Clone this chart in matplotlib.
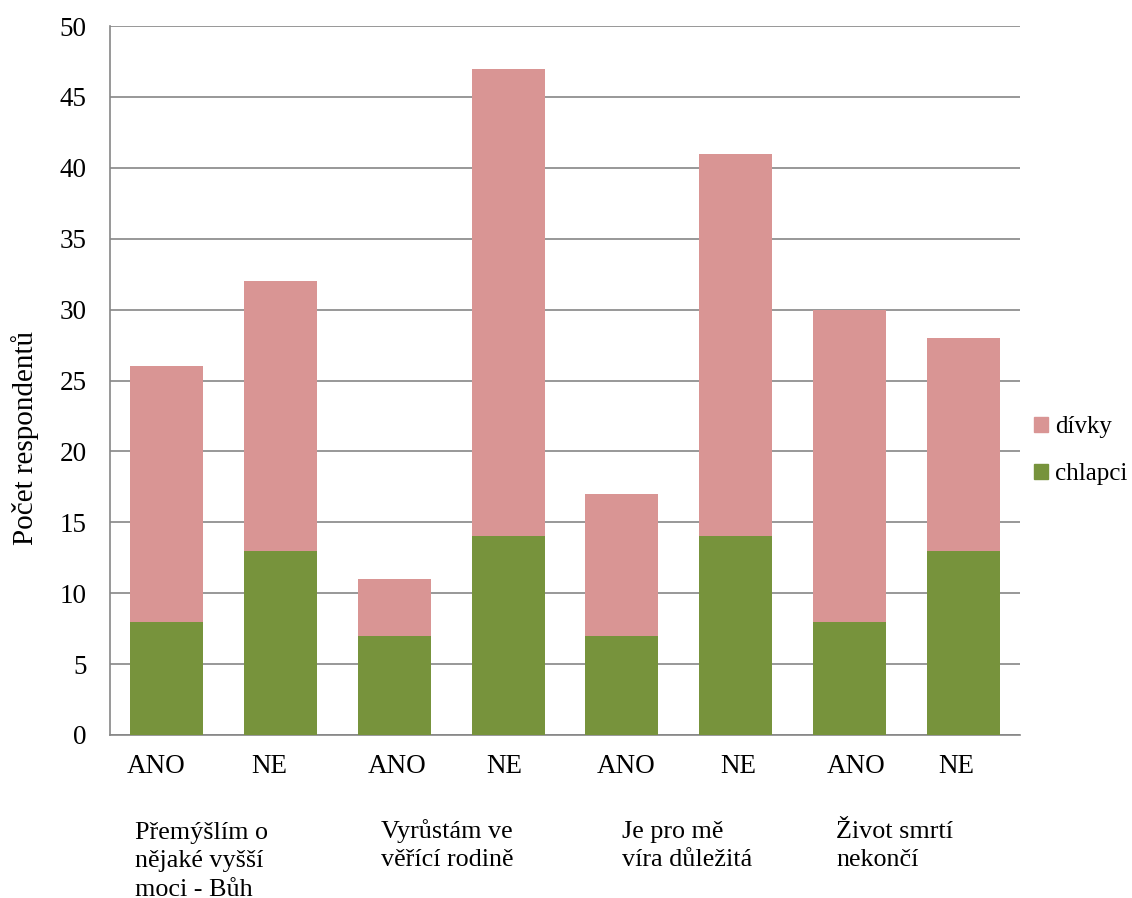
import numpy as np
import matplotlib.pyplot as plt
import matplotlib.transforms as mtransforms
from matplotlib.patches import Patch

plt.rcParams['font.family'] = ['Liberation Serif', 'DejaVu Serif']

odpovedi = ['ANO', 'NE', 'ANO', 'NE', 'ANO', 'NE', 'ANO', 'NE']
chlapci = np.array([8, 13, 7, 14, 7, 14, 8, 13])
divky = np.array([18, 19, 4, 33, 10, 27, 22, 15])
otazky = ['Přemýšlím o\nnějaké vyšší\nmoci - Bůh',
          'Vyrůstám ve\nvěřící rodině',
          'Je pro mě\nvíra důležitá',
          'Život smrtí\nnekončí']
# levý okraj popisků otázek (v pixelech obrázku)
otazky_x = [135, 381, 622, 836]
# posun popisků ANO/NE vůči středu sloupce (px)
posun_px = [-10.5, -11.5, 2.5, -4, 4, 2.5, 7, -6.5]

zelena = '#77933C'
ruzova = '#D99594'
seda = '#868686'
vel = 19.5

fig = plt.figure(figsize=(11.32, 8.98), dpi=100)
ax = fig.add_axes([110 / 1132, 1 - 735 / 898, 910 / 1132, 709 / 898])

x = np.arange(len(odpovedi))
ax.bar(x, chlapci, width=0.64, color=zelena, zorder=3)
ax.bar(x, divky, width=0.64, bottom=chlapci, color=ruzova, zorder=3)

ax.set_xlim(-0.5, len(odpovedi) - 0.5)
ax.set_ylim(0, 50)
ax.set_yticks(np.arange(0, 51, 5))
ax.yaxis.grid(True, color=seda, linewidth=1.2, zorder=0)
ax.set_xticks(x)
ax.set_xticklabels(odpovedi)
ax.tick_params(axis='both', length=0, labelsize=vel)
ax.tick_params(axis='x', pad=14)
ax.tick_params(axis='y', pad=17)
for lbl, dx in zip(ax.get_xticklabels(), posun_px):
    lbl.set_transform(lbl.get_transform() +
                      mtransforms.ScaledTranslation(dx / 100, 0, fig.dpi_scale_trans))
for s in ['top', 'right']:
    ax.spines[s].set_visible(False)
for s in ['left', 'bottom']:
    ax.spines[s].set_color(seda)
    ax.spines[s].set_linewidth(1.2)

fig.text(25 / 1132, 1 - 438 / 898, 'Počet respondentů', rotation=90,
         ha='center', va='center', fontsize=21)

# popisky otázek pod osou; va='baseline' drží účaří posledního řádku
radek = 29.5
for txt, px in zip(otazky, otazky_x):
    n = txt.count('\n')
    fig.text(px / 1132, 1 - (837 + n * radek) / 898, txt, ha='left', va='baseline',
             fontsize=18.8, linespacing=1.39)

handles = [Patch(color=ruzova, label='dívky'), Patch(color=zelena, label='chlapci')]
fig.legend(handles=handles, loc='center left', bbox_to_anchor=(1034 / 1132, 1 - 451 / 898),
           frameon=False, fontsize=18, handlelength=0.56, handleheight=0.56,
           handletextpad=0.3, labelspacing=1.0, borderpad=0, borderaxespad=0)

fig.savefig('out.png', dpi=100)
